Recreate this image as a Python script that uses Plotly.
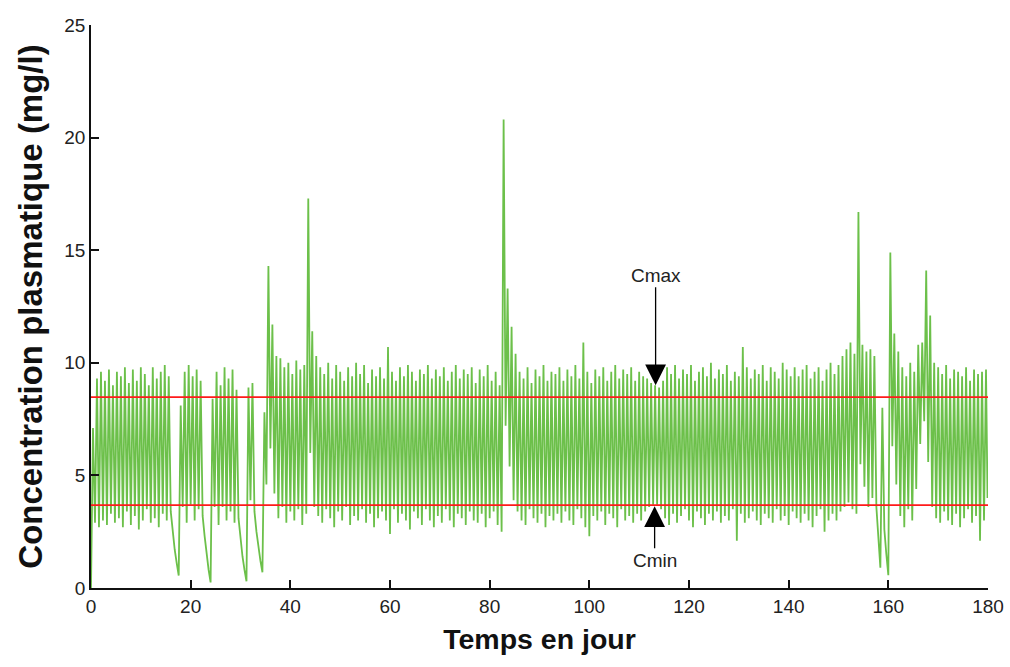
import numpy as np
import plotly.graph_objects as go

# ---- data ----
DOSE_INTERVAL = 0.8          # days between successive administrations
TROUGHS = [
    0.0, 2.9, 2.7, 3.0, 2.8, 3.3, 2.9, 3.1, 2.7, 3.4,
    2.8, 3.2, 2.6, 3.0, 3.5, 2.9, 3.1, 2.7, 3.3, 3.0,
    3.4, 1.7, 0.55,
    3.6, 2.9, 3.7, 3.0, 3.5,
    3.2, 1.5, 0.25,
    3.6, 2.8, 3.6, 3.0, 3.4, 2.9,
    3.1, 1.4, 0.3,
    3.9,
    3.4, 1.7, 0.7,
    4.6, 6.2, 4.2,
    3.1, 3.6, 2.9, 3.4, 3.0, 3.5, 2.8,
    3.3, 6.0, 3.6,
    3.2, 2.9, 3.5, 3.1, 2.7, 3.4, 3.0, 3.6, 2.8, 3.2,
    3.0, 3.5, 2.9, 3.3, 2.7, 3.1, 3.4, 3.0, 2.4, 3.5,
    2.9, 3.3, 3.0, 2.6, 3.4, 3.1, 2.8, 3.5, 3.0, 2.7,
    3.2, 2.9, 3.5, 3.0, 2.7, 3.3, 3.1, 2.8, 3.4, 3.0,
    2.9, 3.3, 2.7, 3.1, 3.4, 2.8,
    2.5, 7.2, 5.4, 3.9,
    3.4, 3.0, 2.8, 3.5, 3.1, 2.9, 3.3, 2.7, 3.2, 3.0,
    3.3, 2.9, 3.4, 3.0, 2.8, 3.5, 3.1, 2.7, 2.3, 3.2,
    3.0, 3.4, 2.8, 3.3, 3.1, 2.7, 3.5, 3.0, 3.2, 2.9,
    3.3, 3.0, 3.4, 3.6, 3.7, 3.7, 3.5, 3.1, 2.8, 3.3,
    2.9, 3.2, 3.5, 3.0, 2.7, 3.4, 3.1, 2.8, 3.3, 3.0,
    3.4, 2.9, 3.2, 3.0, 3.5, 2.1, 3.3, 2.9, 3.1, 3.4,
    3.0, 2.8, 3.3, 3.1, 2.9, 3.5, 3.0, 3.2, 2.8, 3.4,
    3.1, 2.9, 3.3, 3.0, 2.7, 3.2, 3.5, 2.5, 3.0, 3.3,
    3.0, 3.4, 3.6, 3.8, 3.5,
    3.3, 5.5, 4.5, 3.6, 4.0, 3.6, 0.9, 2.6, 0.57, 6.3, 4.6,
    3.2, 2.7, 3.5, 3.0,
    4.4, 6.4, 7.4, 5.6, 3.6,
    3.1, 2.9, 3.4, 3.0, 2.8, 3.3, 2.7, 3.1, 3.5, 2.9, 3.2, 2.1, 3.0,
]
PEAKS = [
    7.1, 9.3, 9.6, 9.2, 9.7, 9.0, 9.6, 9.4, 9.8, 9.1,
    9.7, 9.2, 9.8, 9.5, 9.0, 9.8, 9.3, 9.6, 9.9, 9.4,
    2.5, 1.1, 8.1,
    9.6, 9.9, 9.4, 9.7, 9.2,
    2.3, 0.8, 8.4,
    9.6, 9.0, 9.8, 9.3, 9.7, 8.8,
    2.2, 0.8, 8.9,
    9.1,
    2.5, 1.2, 7.8,
    14.3, 11.7, 10.3,
    10.2, 9.8, 10.0, 9.5, 10.1, 9.7, 9.9,
    17.3, 11.4, 10.3,
    9.8, 9.5, 10.0, 9.3, 9.9, 9.6, 9.2, 9.8, 9.4, 10.0,
    9.5, 9.9, 9.1, 9.7, 9.4, 9.8, 9.3, 10.7, 9.6, 9.2,
    9.8, 9.4, 9.9, 9.6, 9.2, 9.7, 9.5, 9.9, 9.3, 9.7,
    9.4, 9.8, 9.2, 9.6, 9.9, 9.3, 9.7, 9.5, 9.8, 9.1,
    9.7, 9.4, 9.9, 9.2, 9.6, 9.0,
    20.8, 13.3, 11.6, 10.4,
    9.6, 9.3, 9.8, 9.1, 9.7, 9.4, 9.9, 9.2, 9.6, 9.5,
    9.8, 9.2, 9.7, 9.4, 9.9, 9.3, 10.9, 9.6, 9.1, 9.7,
    9.4, 9.8, 9.2, 9.6, 9.9, 9.3, 9.7, 9.5, 9.8, 9.2,
    9.6, 9.4, 9.3, 9.1, 9.0, 8.9, 9.2, 9.8, 9.5, 9.9,
    9.3, 9.7, 9.5, 9.9, 9.2, 9.6, 9.8, 9.4, 10.0, 9.3,
    9.7, 9.5, 9.9, 9.2, 9.6, 9.4, 10.7, 9.8, 9.3, 9.7,
    9.5, 9.9, 9.2, 9.8, 9.6, 9.3, 10.0, 9.7, 9.4, 9.8,
    9.4, 9.7, 9.9, 9.3, 9.6, 9.8, 9.2, 9.7, 10.0, 9.5,
    9.9, 10.3, 10.6, 10.9, 10.4,
    16.7, 10.8, 10.5, 10.6, 10.3, 2.2, 8.0, 1.5, 14.9, 11.3, 10.5,
    9.8, 9.4, 10.0, 9.6,
    10.8, 10.9, 14.1, 12.1, 10.0,
    9.8, 9.5, 9.9, 9.3, 9.7, 9.6, 9.4, 9.8, 9.2, 9.7, 9.5, 9.6, 9.7,
]
END_TIME = 179.9
END_VALUE = 4.0
CMAX = 8.48
CMIN = 3.68
X_TICKS = [0, 20, 40, 60, 80, 100, 120, 140, 160, 180]
Y_TICKS = [0, 5, 10, 15, 20, 25]

assert len(TROUGHS) == len(PEAKS)

# build the concentration curve: trough at each dose time, peak half an interval later
dose_times = np.arange(len(TROUGHS)) * DOSE_INTERVAL
xs, ys = [], []
for t, lo, hi in zip(dose_times, TROUGHS, PEAKS):
    xs += [t, t + DOSE_INTERVAL / 2]
    ys += [lo, hi]
xs.append(END_TIME)
ys.append(END_VALUE)

GREEN = "#6cc04a"
FONT = "Liberation Sans"

fig = go.Figure()
fig.add_trace(go.Scatter(x=xs, y=ys, mode="lines",
                         line=dict(color=GREEN, width=1.8), showlegend=False,
                         hoverinfo="skip"))
for level in (CMAX, CMIN):
    fig.add_trace(go.Scatter(x=[0, 180], y=[level, level], mode="lines",
                             line=dict(color="#ff1a1a", width=1.8),
                             showlegend=False, hoverinfo="skip"))

fig.add_annotation(x=113.3, y=9.0, text="Cmax", showarrow=True,
                   ax=0, ay=-110, arrowhead=2, arrowsize=3.2, arrowwidth=1.3,
                   arrowcolor="black", font=dict(family=FONT, size=19, color="#222"))
fig.add_annotation(x=113.1, y=CMIN - 0.05, text="Cmin", showarrow=True,
                   ax=0, ay=54, arrowhead=2, arrowsize=3.2, arrowwidth=1.3,
                   arrowcolor="black", font=dict(family=FONT, size=19, color="#222"))

axis_common = dict(showgrid=False, zeroline=False, showline=True, automargin=False,
                   linecolor="#111", linewidth=1.5, ticks="inside", ticklen=8,
                   tickwidth=1.5, tickcolor="#111",
                   tickfont=dict(family=FONT, size=19, color="#222"))

fig.update_xaxes(range=[0, 180], tickvals=X_TICKS, **axis_common,
                 title=dict(text="Temps en jour", standoff=14,
                            font=dict(family=FONT, size=28.5, color="#111", weight="bold")))
fig.update_yaxes(range=[0, 25], tickvals=Y_TICKS, **axis_common,
                 title=dict(text="Concentration plasmatique (mg/l)", standoff=12,
                            font=dict(family=FONT, size=33, color="#111", weight="bold")))

fig.update_layout(width=1010, height=667, plot_bgcolor="white", paper_bgcolor="white",
                  margin=dict(l=91, r=22, t=25, b=79))

fig.write_html("out.html")
